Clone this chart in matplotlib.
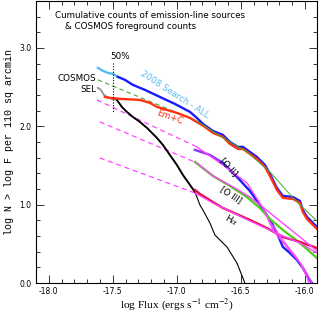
import matplotlib
matplotlib.use("Agg")
import matplotlib.pyplot as plt
from matplotlib.ticker import MultipleLocator

plt.rcParams['mathtext.fontset'] = 'stix'

# ALL (2008 search): faint cyan start, then blue
all_cyan_x = [-17.617, -17.578, -17.539, -17.5, -17.461]
all_cyan_y = [2.746, 2.708, 2.682, 2.669, 2.631]
all_x = [-17.461, -17.406, -17.344, -17.25, -17.133, -17.016, -16.898, -16.844, -16.797,
         -16.719, -16.641, -16.586, -16.523, -16.484, -16.43, -16.375, -16.3125, -16.273,
         -16.219, -16.172, -16.094, -16.039, -16.016, -15.984, -15.945, -15.906]
all_y = [2.631, 2.593, 2.529, 2.465, 2.375, 2.286, 2.184, 2.107, 2.031,
         1.941, 1.89, 1.801, 1.737, 1.737, 1.673, 1.609, 1.507, 1.392,
         1.213, 1.111, 1.098, 1.047, 0.932, 0.843, 0.779, 0.715]

# Em+C
emc_x = [-17.5625, -17.523, -17.445, -17.289, -17.211, -17.156, -17.078, -17.0, -16.898,
         -16.82, -16.781, -16.719, -16.641, -16.586, -16.523, -16.484, -16.43, -16.375,
         -16.3125, -16.273, -16.219, -16.172, -16.094, -16.039, -16.016, -15.984, -15.945, -15.906]
emc_y = [2.375, 2.363, 2.35, 2.337, 2.299, 2.248, 2.209, 2.171, 2.107,
         2.031, 1.992, 1.916, 1.865, 1.775, 1.711, 1.711, 1.648, 1.584,
         1.481, 1.366, 1.188, 1.086, 1.073, 1.022, 0.907, 0.817, 0.754, 0.69]

# COSMOS foreground counts
cosmos_dash_x = [-17.617, -16.844]
cosmos_dash_y = [2.593, 2.069]
cosmos_x = [-16.844, -16.664, -16.453, -16.273, -16.078, -15.906]
cosmos_y = [2.069, 1.877, 1.673, 1.418, 1.06, 0.792]

# SEL (grey above 50% limit, black below)
sel_grey_x = [-17.617, -17.594, -17.57, -17.547, -17.508, -17.469]
sel_grey_y = [2.49, 2.465, 2.401, 2.375, 2.35, 2.337]
sel_x = [-17.469, -17.43, -17.391, -17.344, -17.289, -17.234, -17.156, -17.109, -17.055,
         -17.0, -16.953, -16.898, -16.859, -16.82, -16.797, -16.742, -16.703, -16.664,
         -16.609, -16.57, -16.531, -16.5, -16.469]
sel_y = [2.337, 2.248, 2.184, 2.12, 2.056, 1.98, 1.852, 1.762, 1.635,
         1.507, 1.379, 1.252, 1.162, 0.996, 0.932, 0.766, 0.613, 0.549,
         0.46, 0.358, 0.255, 0.128, 0.0]

# [O II]
oii_x = [-16.859, -16.742, -16.641, -16.531, -16.43, -16.352, -16.273, -16.219, -16.172,
         -16.117, -16.0625, -16.016, -15.977, -15.945]
oii_y = [1.699, 1.635, 1.533, 1.354, 1.175, 0.996, 0.805, 0.639, 0.46,
         0.383, 0.294, 0.192, 0.077, 0.0]

# [O III]
oiii_x = [-16.859, -16.719, -16.586, -16.453, -16.352, -16.273, -16.172, -16.039, -15.906]
oiii_y = [1.545, 1.367, 1.239, 1.098, 0.958, 0.817, 0.677, 0.511, 0.319]

# H-alpha
ha_x = [-16.859, -16.82, -16.719, -16.641, -16.43, -16.297, -16.172, -16.039, -15.906]
ha_y = [1.188, 1.137, 1.034, 0.958, 0.805, 0.702, 0.587, 0.524, 0.447]

# model fits (magenta): dashed extrapolation + solid part
fit1_dash_x = [-17.625, -16.844]
fit1_dash_y = [2.337, 1.737]
fit1_x = [-16.844, -16.641, -16.453, -16.328, -16.25, -16.141, -16.039, -15.984, -15.969]
fit1_y = [1.737, 1.507, 1.277, 0.958, 0.677, 0.46, 0.255, 0.077, 0.0]
fit1b_x = [-16.273, -16.156, -16.0625, -16.0, -15.945]
fit1b_y = [0.779, 0.511, 0.319, 0.166, 0.0]
fit2_dash_x = [-17.602, -16.844]
fit2_dash_y = [2.056, 1.533]
fit2_x = [-16.844, -16.719, -16.547, -16.43, -16.273, -16.039, -15.906]
fit2_y = [1.533, 1.367, 1.213, 1.098, 0.894, 0.587, 0.409]
fit3_dash_x = [-17.602, -16.859]
fit3_dash_y = [1.596, 1.149]
fit3_x = [-16.859, -16.719, -16.43, -16.172, -16.039, -15.906]
fit3_y = [1.149, 1.022, 0.792, 0.6, 0.511, 0.383]

fig = plt.figure(figsize=(3.19, 3.11), dpi=100)
ax = fig.add_axes([0.113, 0.09, 0.881, 0.907])

mag = '#ff44ff'
ax.plot(fit1_dash_x, fit1_dash_y, color=mag, lw=0.9, dashes=(4, 3))
ax.plot(fit2_dash_x, fit2_dash_y, color=mag, lw=0.9, dashes=(4, 3))
ax.plot(fit3_dash_x, fit3_dash_y, color=mag, lw=0.9, dashes=(4, 3))
ax.plot(cosmos_dash_x, cosmos_dash_y, color='#44aa33', lw=0.8, dashes=(4, 3))

ax.plot(sel_grey_x, sel_grey_y, color='#999999', lw=1.4)
ax.plot(sel_x[:13], sel_y[:13], color='black', lw=1.4)
ax.plot(sel_x[12:], sel_y[12:], color='black', lw=0.8)

ax.plot(oii_x[:3], oii_y[:3], color='#8833ff', lw=1.7)
ax.plot(oii_x[2:], oii_y[2:], color='#1a1aff', lw=1.7)
ax.plot(oiii_x, oiii_y, color='#55cc22', lw=1.7)
ax.plot(ha_x, ha_y, color='#dd1144', lw=1.7)

ax.plot(fit1_x, fit1_y, color=mag, lw=1.0)
ax.plot(fit1b_x, fit1b_y, color=mag, lw=1.0)
ax.plot(fit2_x, fit2_y, color=mag, lw=1.0)
ax.plot(fit3_x, fit3_y, color=mag, lw=1.0)

ax.plot(all_cyan_x, all_cyan_y, color='#55bbee', lw=1.7)
ax.plot(all_x, all_y, color='#1a1aff', lw=1.7)
ax.plot(emc_x, emc_y, color='#ff3311', lw=1.7)
ax.plot(cosmos_x, cosmos_y, color='#44aa33', lw=0.7)

ax.plot([-17.5, -17.5], [2.81, 2.17], color='black', lw=0.8, ls=(0, (1, 1.5)))

tf = dict(family='DejaVu Sans', fontsize=6.3)
ax.text(-17.445, 2.886, '50%', ha='center', va='center', **tf)
ax.text(-17.63, 2.605, 'COSMOS', ha='right', va='center', **tf)
ax.text(-17.63, 2.465, 'SEL', ha='right', va='center', **tf)
ax.text(-17.016, 2.401, '2008 Search - ALL', color='#55bbee', rotation=-33,
        ha='center', va='center', rotation_mode='anchor', **tf)
ax.text(-17.055, 2.12, 'Em+C', color='#ff3311', rotation=-20,
        ha='center', va='center', rotation_mode='anchor', **tf)
ax.text(-16.594, 1.481, '[O II]', rotation=-48, ha='center', va='center',
        rotation_mode='anchor', **tf)
ax.text(-16.578, 1.124, '[O III]', rotation=-33, ha='center', va='center',
        rotation_mode='anchor', **tf)
ax.text(-16.57, 0.805, r'H$\alpha$', rotation=-30, ha='center', va='center',
        rotation_mode='anchor', **tf)
ax.text(-17.953, 3.42, 'Cumulative counts of emission-line sources',
        ha='left', va='center', **tf)
ax.text(-17.875, 3.28, '& COSMOS foreground counts', ha='left', va='center', **tf)

ax.set_xlim(-18.1, -15.905)
ax.set_ylim(0, 3.6)
ax.xaxis.set_major_locator(MultipleLocator(0.5))
ax.xaxis.set_minor_locator(MultipleLocator(0.1))
ax.yaxis.set_major_locator(MultipleLocator(1.0))
ax.yaxis.set_minor_locator(MultipleLocator(0.2))
ax.xaxis.set_major_formatter(plt.FuncFormatter(lambda v, p: '%.1f' % v))
ax.yaxis.set_major_formatter(plt.FuncFormatter(lambda v, p: '%.1f' % v))
ax.tick_params(which='both', direction='in', top=True, right=True, labelsize=5.5,
               width=0.7, color='#333333')
ax.tick_params(axis='x', pad=3)
ax.tick_params(which='major', length=6)
ax.tick_params(which='minor', length=3)
for s in ax.spines.values():
    s.set_linewidth(0.8)

ax.set_xlabel('log Flux (ergs s$^{-1}$ cm$^{-2}$)', family='Liberation Serif',
              fontsize=8.2, labelpad=0)
ax.set_ylabel('log N > log F per 110 sq arcmin', family='Liberation Mono',
              fontsize=7.2, labelpad=4)

fig.savefig('out.png', dpi=100)
